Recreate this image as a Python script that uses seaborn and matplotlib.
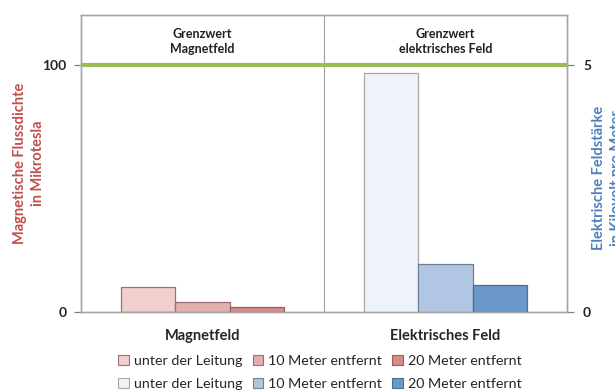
import matplotlib
matplotlib.use("Agg")
import matplotlib.pyplot as plt
from matplotlib.patches import Patch
import seaborn as sns
import pandas as pd

# Messwerte
felder = ["Magnetfeld", "Elektrisches Feld"]
abstaende = ["unter der Leitung", "10 Meter entfernt", "20 Meter entfernt"]
magnet_mikrotesla = [10, 4, 1.9]          # linke Achse
elektrisch_kv_m = [4.82, 0.97, 0.55]      # rechte Achse
grenzwert_magnet = 100
grenzwert_elektrisch = 5
grenz_texte = ["Grenzwert\nMagnetfeld", "Grenzwert\nelektrisches Feld"]

farben_magnet = ["#F0CFCE", "#E4B0AF", "#D98A89"]
farben_elektrisch = ["#EEF2FA", "#B0C6E2", "#6A98CA"]
rand_magnet = ["#9A7474", "#9A6E6E", "#9A5E5E"]
rand_elektrisch = ["#A8A8A8", "#6F7F95", "#4F6E95"]

sns.set_theme(style="white")
plt.rcParams["font.family"] = ["Lato", "DejaVu Sans"]

df_m = pd.DataFrame({"Feld": felder[0], "Abstand": abstaende, "Wert": magnet_mikrotesla})
df_e = pd.DataFrame({"Feld": felder[1], "Abstand": abstaende, "Wert": elektrisch_kv_m})

fig = plt.figure(figsize=(6.15, 3.92), dpi=100)
ax = fig.add_axes([81 / 615, 80 / 392, 486 / 615, 297 / 392])
ax2 = ax.twinx()

sns.barplot(data=df_m, x="Feld", y="Wert", hue="Abstand", order=felder,
            hue_order=abstaende, palette=farben_magnet, width=0.667,
            saturation=1, linewidth=0.9, legend=False, ax=ax)
sns.barplot(data=df_e, x="Feld", y="Wert", hue="Abstand", order=felder,
            hue_order=abstaende, palette=farben_elektrisch, width=0.667,
            saturation=1, linewidth=0.9, legend=False, ax=ax2)
for cont, ec in zip(ax.containers, rand_magnet):
    for p in cont:
        p.set_edgecolor(ec)
for cont, ec in zip(ax2.containers, rand_elektrisch):
    for p in cont:
        p.set_edgecolor(ec)

ax.set_ylim(0, 120)
ax2.set_ylim(0, 6)
ax.set_xlim(-0.5, 1.5)

# Grenzwertlinie
ax2.axhline(grenzwert_elektrisch, color="#9BBB59", lw=3, zorder=5)
ax.axvline(0.5, color="#A0A0A0", lw=0.8, zorder=0)

for i, t in enumerate(grenz_texte):
    ax.text(i, 109.3, t, ha="center", va="center", fontsize=9,
            fontweight="bold", color="#202020", linespacing=1.3)

spine_c = "#A6A6A6"
for a in (ax, ax2):
    for s in a.spines.values():
        s.set_color(spine_c)
        s.set_linewidth(1.0)

ax.set_yticks([0, grenzwert_magnet])
ax2.set_yticks([0, grenzwert_elektrisch])
ax.tick_params(axis="y", which="major", length=5, width=0.9, color="#808080",
               direction="out", labelsize=10, pad=5.5)
ax2.tick_params(axis="y", which="major", length=5, width=0.9, color="#808080",
                direction="out", labelsize=10, pad=6.5)
for lbl in ax.get_yticklabels() + ax2.get_yticklabels():
    lbl.set_fontweight("bold")

ax.set_xticks([0, 1])
ax.set_xticklabels(felder, fontsize=10.5, fontweight="bold")
ax.tick_params(axis="x", which="major", length=0, pad=12)
ax.set_xticks([0.5], minor=True)
ax.tick_params(axis="x", which="minor", length=6, width=0.8, color="#808080",
               direction="out")
ax.set_xlabel("")
ax.set_ylabel("Magnetische Flussdichte\nin Mikrotesla", color="#C0504D",
              fontsize=10.5, fontweight="bold", linespacing=1.4)
ax.yaxis.set_label_coords((45 - 81) / 486, 0.5)
ax2.set_ylabel("Elektrische Feldstärke\nin Kilovolt pro Meter", color="#4F81BD",
               fontsize=10.5, fontweight="bold", linespacing=1.4)
ax2.yaxis.set_label_coords((592 - 81) / 486, (312 - 178) / 297)

h1 = [Patch(facecolor=f, edgecolor=e, lw=0.8) for f, e in zip(farben_magnet, rand_magnet)]
h2 = [Patch(facecolor=f, edgecolor=e, lw=0.8) for f, e in zip(farben_elektrisch, rand_elektrisch)]
leg_kw = dict(ncol=3, frameon=False, fontsize=10.3, handlelength=0.75,
              handleheight=0.75, handletextpad=0.35, columnspacing=0.7,
              loc="center")
fig.legend(h1, abstaende, bbox_to_anchor=(320 / 615, 1 - 361 / 392), **leg_kw)
fig.legend(h2, abstaende, bbox_to_anchor=(320 / 615, 1 - 384 / 392), **leg_kw)

fig.savefig("out.png", dpi=100)
